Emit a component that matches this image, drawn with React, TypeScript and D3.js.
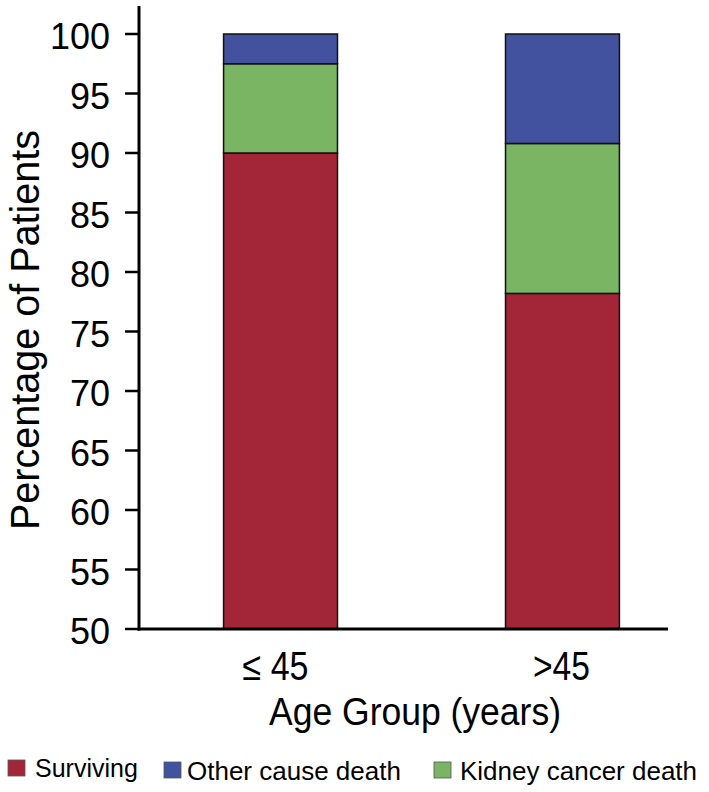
import React from "react";
import * as d3 from "d3";

const categories = ["\u2264 45", ">45"];
const seriesKeys = ["surviving", "kidney", "other"];
const surviving = [90.0, 78.2];
const kidneyCancerDeath = [7.5, 12.6];
const otherCauseDeath = [2.5, 9.2];
const yTicks = [50, 55, 60, 65, 70, 75, 80, 85, 90, 95, 100];
const legendItems = [
  { key: "surviving", label: "Surviving" },
  { key: "other", label: "Other cause death" },
  { key: "kidney", label: "Kidney cancer death" },
];

const colors: Record<string, string> = {
  surviving: "#A32638",
  kidney: "#7AB563",
  other: "#42529F",
};

const W = 709;
const H = 792;
const FONT = "'Liberation Sans', Arial, Helvetica, sans-serif";

export default function App() {
  const axisX = 139;
  const axisY = 629;
  const topY = 34;

  const y = d3.scaleLinear().domain([50, 100]).range([axisY, topY]);
  const x = d3
    .scaleBand<string>()
    .domain(categories)
    .range([axisX, 704])
    .paddingInner(0.596)
    .paddingOuter(0.3);

  const rows = categories.map((c, i) => ({
    cat: c,
    surviving: surviving[i],
    kidney: kidneyCancerDeath[i],
    other: otherCauseDeath[i],
  }));
  const stacked = d3.stack<any>().keys(seriesKeys)(rows);

  // baseline offset: stack starts at 0 but axis starts at 50; clamp
  const clampY = (v: number) => y(Math.max(50, v));

  const xLabelLen = [66, 57];
  const xLabelDx = [-5, -1];
  const legendPos = [
    { sx: 8, tx: 35, w: 17 },
    { sx: 164, tx: 187, w: 17 },
    { sx: 434, tx: 460, w: 17 },
  ];

  return (
    <svg
      width={W}
      height={H}
      style={{ position: "absolute", left: 0, top: 0, background: "#fff" }}
      fontFamily={FONT}
    >
      {/* bars */}
      {stacked.map((s) => (
        <g key={s.key}>
          {s.map((d, i) => (
            <rect
              key={i}
              x={x(categories[i])!}
              width={x.bandwidth()}
              y={clampY(d[1])}
              height={clampY(d[0]) - clampY(d[1])}
              fill={colors[s.key]}
              stroke="#111"
              strokeWidth={1.5}
            />
          ))}
        </g>
      ))}

      {/* y axis */}
      <line x1={axisX} x2={axisX} y1={6} y2={axisY + 1.5} stroke="#000" strokeWidth={3} />
      {yTicks.map((t) => (
        <g key={t}>
          <line x1={125} x2={axisX} y1={y(t)} y2={y(t)} stroke="#000" strokeWidth={2.5} />
          <text
            x={110}
            y={y(t)}
            dy="0.42em"
            textAnchor="end"
            fontSize={36}
            fill="#000"
          >
            {t}
          </text>
        </g>
      ))}

      {/* x axis */}
      <line x1={axisX - 1.5} x2={668} y1={axisY} y2={axisY} stroke="#000" strokeWidth={3} />
      {categories.map((c, i) => (
        <text
          key={c}
          x={x(c)! + x.bandwidth() / 2 + xLabelDx[i]}
          y={680}
          textAnchor="middle"
          fontSize={40}
          textLength={xLabelLen[i]}
          lengthAdjust="spacingAndGlyphs"
          fill="#000"
        >
          {c}
        </text>
      ))}

      {/* axis titles */}
      <text
        x={415}
        y={725}
        textAnchor="middle"
        fontSize={38}
        textLength={292}
        lengthAdjust="spacingAndGlyphs"
        fill="#000"
      >
        Age Group (years)
      </text>
      <text
        transform={`translate(39, 330) rotate(-90)`}
        textAnchor="middle"
        fontSize={40}
        textLength={400}
        lengthAdjust="spacingAndGlyphs"
        fill="#000"
      >
        Percentage of Patients
      </text>

      {/* legend */}
      {legendItems.map((it, i) => (
        <g key={it.key}>
          <rect
            x={legendPos[i].sx}
            y={i === 0 ? 760 : 762}
            width={legendPos[i].w}
            height={legendPos[i].w - 1}
            fill={colors[it.key]}
            stroke="#555"
            strokeWidth={0.8}
          />
          <text x={legendPos[i].tx} y={i === 0 ? 777 : 780} fontSize={i === 0 ? 25 : 26} fill="#000">
            {it.label}
          </text>
        </g>
      ))}
    </svg>
  );
}
